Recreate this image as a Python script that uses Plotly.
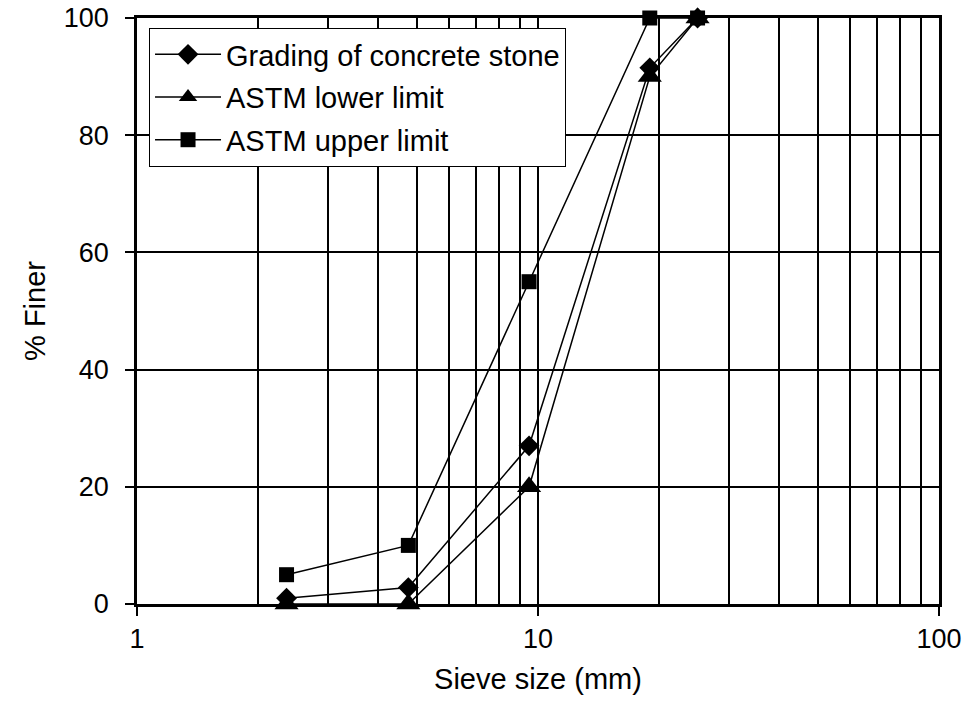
import plotly.graph_objects as go

# Sieve sizes (mm) and percent passing
sieve_mm = [2.36, 4.75, 9.5, 19, 25]
grading = [1.0, 2.8, 27.0, 91.5, 100]
astm_lower = [0, 0, 20, 90, 100]
astm_upper = [5, 10, 55, 100, 100]

series = [
    ("Grading of concrete stone", grading, "diamond", 16),
    ("ASTM lower limit", astm_lower, "triangle-up", 21),
    ("ASTM upper limit", astm_upper, "square", 15),
]

y_ticks = [0, 20, 40, 60, 80, 100]
x_ticks = [1, 10, 100]
x_minor = [2, 3, 4, 5, 6, 7, 8, 9, 20, 30, 40, 50, 60, 70, 80, 90]

FONT = "Liberation Sans, Arial, sans-serif"

fig = go.Figure()
for name, vals, sym, size in series:
    fig.add_trace(go.Scatter(
        x=sieve_mm, y=vals, name=name, mode="lines+markers",
        legendgroup=name,
        line=dict(color="black", width=1.5),
        marker=dict(symbol=sym, size=size, color="black"),
        cliponaxis=False,
    ))

fig.update_layout(
    width=967, height=717,
    margin=dict(l=137, r=28, t=18, b=113),
    paper_bgcolor="white", plot_bgcolor="white",
    font=dict(family=FONT, size=27, color="black"),
    showlegend=True,
    legend=dict(
        x=0.015, y=0.983, xanchor="left", yanchor="top",
        bgcolor="white", bordercolor="black", borderwidth=1,
        font=dict(size=29), tracegroupgap=2, itemwidth=66,
    ),
    xaxis=dict(
        type="log", range=[0, 2], automargin=False,
        tickvals=x_ticks, ticktext=[str(v) for v in x_ticks],
        ticks="outside", ticklen=9, tickwidth=1.5, tickcolor="black",
        showgrid=True, gridcolor="black", gridwidth=1.6,
        minor=dict(tickvals=x_minor, showgrid=True, gridcolor="black", gridwidth=1.6, ticks=""),
        showline=True, linecolor="black", linewidth=2.5, mirror=True,
        zeroline=False,
        title=dict(text="Sieve size (mm)", standoff=16, font=dict(size=29)),
        tickfont=dict(size=27),
    ),
    yaxis=dict(
        range=[0, 100], automargin=False,
        tickvals=y_ticks,
        ticks="outside", ticklen=9, tickwidth=1.5, tickcolor="black",
        ticklabelstandoff=11,
        showgrid=True, gridcolor="black", gridwidth=1.6,
        showline=True, linecolor="black", linewidth=2.5, mirror=True,
        zeroline=False,
        title=dict(text="% Finer", standoff=10, font=dict(size=29)),
        tickfont=dict(size=27),
    ),
)

fig.write_html("out.html")
